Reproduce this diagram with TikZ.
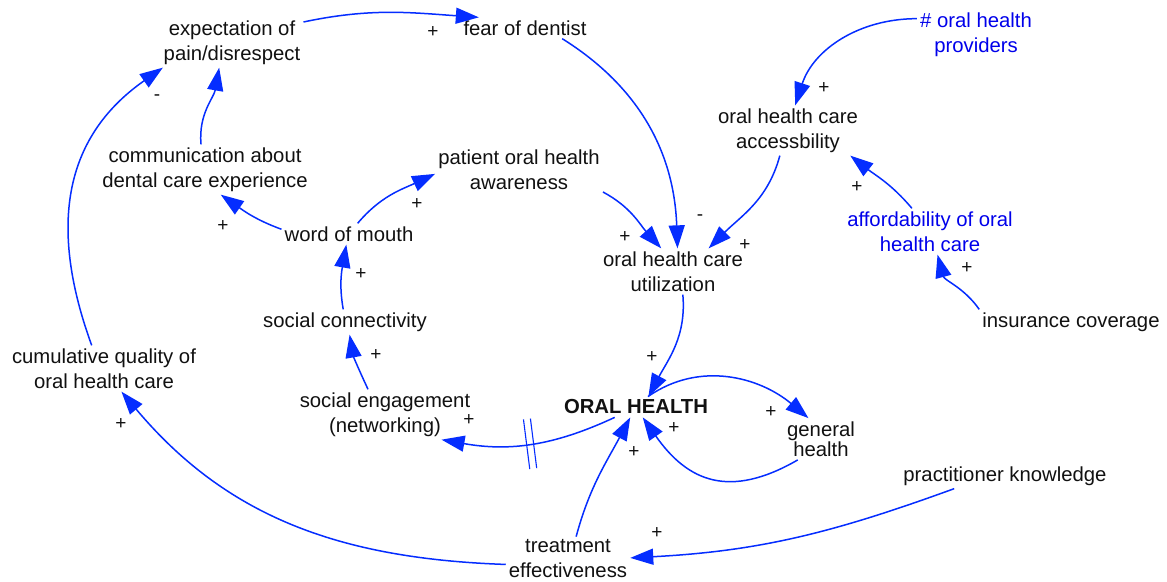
\documentclass[tikz,border=0pt]{standalone}
\usepackage{fontspec}
\setmainfont{Liberation Sans}
\usetikzlibrary{arrows.meta,decorations.markings}
\definecolor{linkblue}{RGB}{5,45,255}
\definecolor{varblue}{RGB}{0,0,235}
\definecolor{txt}{RGB}{17,17,17}
\begin{document}
\begin{tikzpicture}[x=1pt,y=1pt,
  lbl/.style={font=\fontsize{20.3}{25}\selectfont, align=center, inner sep=3pt, text=txt},
  blbl/.style={lbl, text=varblue},
  sgn/.style={font=\fontsize{19}{19}\selectfont, inner sep=0pt, text=txt},
  link/.style={draw=linkblue, line width=1.5pt, -{Triangle[length=23pt,width=16pt]}},
  delaymark/.style={postaction={decorate, decoration={markings,
     mark=at position #1 with {\draw[linkblue, line width=1.1pt, -] (-3.5,-25) -- (-3.5,25) (3.5,-25) -- (3.5,25);}}}}
]
\useasboundingbox (0,0) rectangle (1167,581);
\fill[white] (0,0) rectangle (1167,581);

% variables
\node[lbl] (E) at (232,538.5) {expectation of\\pain/disrespect};
\node[lbl] (F) at (525,553) {fear of dentist};
\node[blbl] (P) at (976,546.5) {\# oral health\\providers};
\node[lbl] (A) at (788,450.5) {oral health care\\accessbility};
\node[lbl] (C) at (205,411.5) {communication about\\dental care experience};
\node[lbl] (W) at (519,411.5) {patient oral health\\awareness};
\node[blbl] (AF) at (930,349.5) {affordability of oral\\health care};
\node[lbl] (M) at (349,347) {word of mouth};
\node[lbl] (U) at (673,309.5) {oral health care\\utilization};
\node[lbl] (I) at (1071,259) {insurance coverage};
\node[lbl] (S) at (345,259) {social connectivity};
\node[lbl] (Q) at (104,212.5) {cumulative quality of\\oral health care};
\node[lbl] (G) at (385,166.5) {social engagement\\(networking)};
\node[lbl, font=\fontsize{20.3}{25}\selectfont\bfseries] (O) at (636,174) {ORAL HEALTH};
\node[lbl, font=\fontsize{20.3}{20.5}\selectfont] (H) at (821,142) {general\\health};
\node[lbl] (K) at (1005,105) {practitioner knowledge};
\node[lbl] (T) at (568,22) {treatment\\effectiveness};

% links
\draw[link] (E.16) to[out=12,in=176] (F.167);
\draw[link] (F.-16) to[out=-32,in=92] (U.79);
\draw[link] (W.-15) to[out=-28,in=132] (U.117);
\draw[link] (A.-108) to[out=-105,in=45] (U.33);
\draw[link] (P.165) to[out=180,in=72] (A.74);
\draw[link] (AF.128) to[out=130,in=-38] (A.-22);
\draw[link] (I.north west) to[out=125,in=-75] (AF.-72);
\draw[link] (C.99) to[out=95,in=-100] (E.-117);
\draw[link] (Q.118) to[out=110,in=-145,looseness=1.1] (E.-160);
\draw[link] (M.176) to[out=160,in=-35] (C.-58);
\draw[link] (M.51) to[out=50,in=-155] (W.-177);
\draw[link] (S.98) to[out=100,in=-100] (M.-104);
\draw[link] (G.124) to[out=115,in=-80] (S.-70);
\draw[link, delaymark=0.5] (O.-154) to[out=205,in=-10] (G.-24);
\draw[link] (U.-67) to[out=-85,in=62] (O.40);
\draw[link] (O.41) to[out=35,in=140] (H.121);
\draw[link] (H.-138) to[out=210,in=-55,looseness=1.25] (O.-57);
\draw[link] (T.70) to[out=75,in=-118] (O.-119);
\draw[link] (K.-166) to[out=200,in=3] (T.1);
\draw[link] (T.-175) to[out=178,in=-50] (Q.-53);

% polarity signs
\node[sgn] (s1) at (433,549) {+};
\node[sgn] (s2) at (700,363) {-};
\node[sgn] (s3) at (625,344) {+};
\node[sgn] (s4) at (745,336) {+};
\node[sgn] (s5) at (824,493) {+};
\node[sgn] (s6) at (857,394) {+};
\node[sgn] (s7) at (967,313) {+};
\node[sgn] (s8) at (157,483) {-};
\node[sgn] (s9) at (223,355) {+};
\node[sgn] (s10) at (417,377) {+};
\node[sgn] (s11) at (361,307) {+};
\node[sgn] (s12) at (376,226) {+};
\node[sgn] (s13) at (469,161) {+};
\node[sgn] (s14) at (652,224) {+};
\node[sgn] (s15) at (771,169) {+};
\node[sgn] (s16) at (674,153) {+};
\node[sgn] (s17) at (634,129) {+};
\node[sgn] (s18) at (657,48) {+};
\node[sgn] (s19) at (121,157) {+};
\end{tikzpicture}
\end{document}
